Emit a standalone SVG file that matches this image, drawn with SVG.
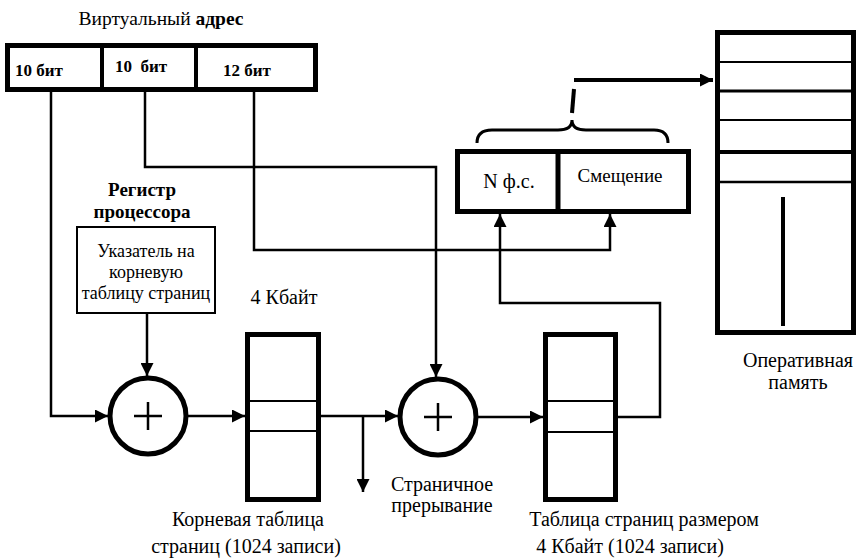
<svg xmlns="http://www.w3.org/2000/svg" width="857" height="558" viewBox="0 0 857 558">
<defs>
<marker id="ah" markerUnits="userSpaceOnUse" markerWidth="13" markerHeight="13" refX="13" refY="6.5" orient="auto" viewBox="0 0 13 13">
<path d="M0,0 L13,6.5 L0,13 z" fill="#000"/>
</marker>
</defs>
<style>
.t{font-family:"Liberation Serif","Times New Roman","DejaVu Serif",serif;font-size:20px;fill:#000}
.b{font-weight:bold}
.s17{font-size:17px}
.s18{font-size:18px}
.thick{fill:#fff;stroke:#000;stroke-width:5}
.conn{fill:none;stroke:#000;stroke-width:2.5}
</style>
<rect width="857" height="558" fill="#fff"/>

<g id="virtual-address">
<text class="t" x="161" y="25" text-anchor="middle" style="font-size:19.5px">Виртуальный <tspan class="b">адрес</tspan></text>
<rect class="thick" x="7.5" y="45.5" width="308" height="44"/>
<line x1="102" y1="45" x2="102" y2="90" stroke="#000" stroke-width="4"/>
<line x1="196" y1="45" x2="196" y2="90" stroke="#000" stroke-width="4"/>
<text class="t b s17" x="15" y="76">10 бит</text>
<text class="t b s17" x="115" y="72" xml:space="preserve">10  бит</text>
<text class="t b s17" x="223" y="76">12 бит</text>
</g>

<g id="register">
<text class="t b" x="142" y="196" text-anchor="middle" style="font-size:19px">Регистр</text>
<text class="t b" x="142" y="218" text-anchor="middle" style="font-size:19px">процессора</text>
<rect x="77" y="227" width="138" height="86" fill="#fff" stroke="#000" stroke-width="2"/>
<text class="t s18" x="146" y="257" text-anchor="middle">Указатель на</text>
<text class="t s18" x="146" y="278" text-anchor="middle">корневую</text>
<text class="t s18" x="146" y="299" text-anchor="middle">таблицу страниц</text>
</g>

<g id="adder1">
<circle class="thick" cx="148" cy="416" r="38"/>
<path d="M134,416 H162 M148,402 V430" stroke="#000" stroke-width="2.5"/>
</g>

<g id="root-table">
<text class="t" x="284" y="304" text-anchor="middle">4 Кбайт</text>
<rect class="thick" x="247.5" y="334.5" width="71" height="165"/>
<line x1="248" y1="401" x2="318" y2="401" stroke="#000" stroke-width="2"/>
<line x1="248" y1="431" x2="318" y2="431" stroke="#000" stroke-width="2"/>
<text class="t" x="248" y="526" text-anchor="middle">Корневая таблица</text>
<text class="t" x="246" y="553" text-anchor="middle">страниц (1024 записи)</text>
</g>

<g id="adder2">
<circle class="thick" cx="438" cy="417" r="38"/>
<path d="M424,417 H452 M438,403 V431" stroke="#000" stroke-width="2.5"/>
</g>

<g id="page-fault">
<text class="t" x="442" y="491" text-anchor="middle">Страничное</text>
<text class="t" x="442" y="512" text-anchor="middle">прерывание</text>
</g>

<g id="page-table">
<rect class="thick" x="545.5" y="334.5" width="70" height="165"/>
<line x1="546" y1="401" x2="615" y2="401" stroke="#000" stroke-width="2"/>
<line x1="546" y1="432" x2="615" y2="432" stroke="#000" stroke-width="2"/>
<text class="t" x="644" y="526" text-anchor="middle">Таблица страниц размером</text>
<text class="t" x="630" y="553" text-anchor="middle">4 Кбайт (1024 записи)</text>
</g>

<g id="physical-address">
<rect class="thick" x="457.5" y="151.5" width="231" height="60"/>
<line x1="558" y1="151" x2="558" y2="212" stroke="#000" stroke-width="5"/>
<text class="t" x="509" y="188" text-anchor="middle">N ф.с.</text>
<text class="t" x="620" y="182" text-anchor="middle" style="font-size:19px">Смещение</text>
<path d="M477,143 Q477,130 492,130 H558 Q572,130 572,120 Q572,130 586,130 H654 Q668,130 668,143" fill="none" stroke="#000" stroke-width="3"/>
</g>

<g id="memory">
<rect class="thick" x="717.5" y="32.5" width="136" height="300"/>
<line x1="718" y1="62" x2="854" y2="62" stroke="#000" stroke-width="2"/>
<line x1="718" y1="91" x2="854" y2="91" stroke="#000" stroke-width="3"/>
<line x1="718" y1="120" x2="854" y2="120" stroke="#000" stroke-width="2"/>
<line x1="718" y1="152" x2="854" y2="152" stroke="#000" stroke-width="4"/>
<line x1="718" y1="182" x2="854" y2="182" stroke="#000" stroke-width="2.5"/>
<line x1="783" y1="197" x2="783" y2="326" stroke="#000" stroke-width="4"/>
<text class="t" x="798" y="367" text-anchor="middle">Оперативная</text>
<text class="t" x="798" y="389" text-anchor="middle">память</text>
</g>

<g id="connectors">
<path class="conn" d="M51,92 V416 H108" marker-end="url(#ah)"/>
<path class="conn" d="M147,313 V376" marker-end="url(#ah)"/>
<path class="conn" d="M188,416 H245" marker-end="url(#ah)"/>
<path class="conn" d="M321,416 H398" marker-end="url(#ah)"/>
<path class="conn" d="M363,416 V492" marker-end="url(#ah)"/>
<path class="conn" d="M145,92 V167 H436 V377" marker-end="url(#ah)"/>
<path class="conn" d="M254,92 V250 H610 V214" marker-end="url(#ah)"/>
<path class="conn" d="M478,417 H543" marker-end="url(#ah)"/>
<path class="conn" d="M618,417 H660 V303 H500 V214" marker-end="url(#ah)"/>
<path d="M572,113 L574,89" stroke="#000" stroke-width="4" fill="none"/>
<path d="M574,80 H713" stroke="#000" stroke-width="4" fill="none" marker-end="url(#ah)"/>
</g>
</svg>
